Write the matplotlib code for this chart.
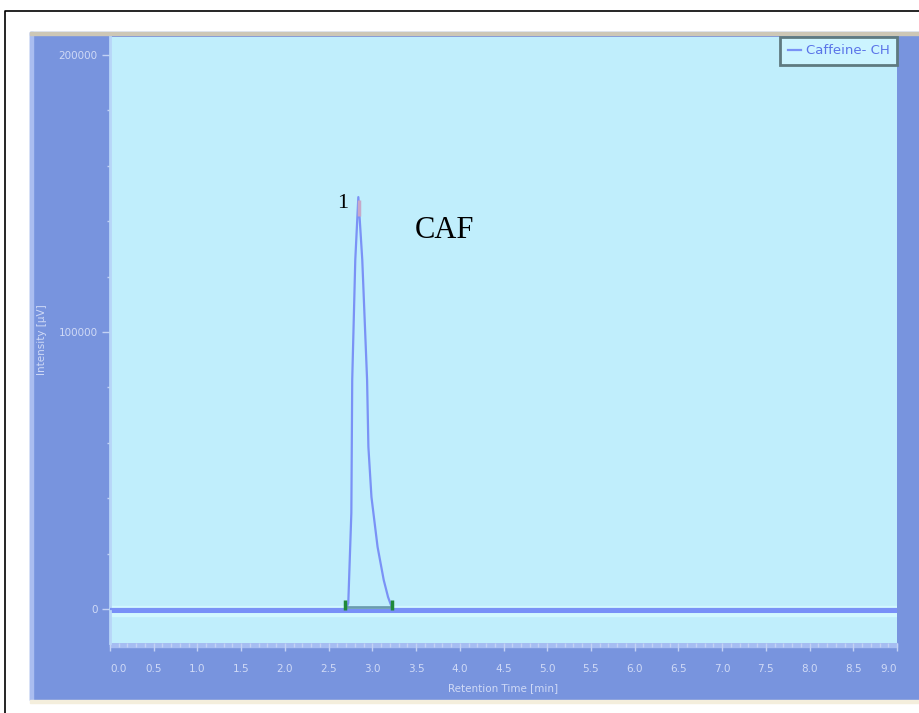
import matplotlib.pyplot as plt
from matplotlib.patches import Rectangle
from matplotlib.lines import Line2D
from matplotlib.ticker import MultipleLocator

# chromatogram
times = [0.0, 2.70, 2.725, 2.76, 2.77, 2.805, 2.84, 2.885, 2.94, 2.955, 2.99, 3.06,
         3.13, 3.18, 3.23, 9.0]
intensity = [0, 0, 2200, 34700, 82700, 126000, 148700, 126000, 82700, 58500, 40400,
             22400, 10500, 4300, 0, 0]

peak_start = 2.69
peak_end = 3.23
peak_apex = 2.845
peak_height = 148700

x_ticks = [0.5 * i for i in range(19)]
x_labels = ["%.1f" % t for t in x_ticks]
y_ticks = [0, 100000, 200000]
y_labels = ["0", "100000", "200000"]

W, H = 919, 713
fig = plt.figure(figsize=(W / 100, H / 100), dpi=100)
fig.patch.set_facecolor("white")


def box(x0, y0, x1, y1, color):
    fig.patches.append(Rectangle((x0 / W, 1 - y1 / H), (x1 - x0) / W, (y1 - y0) / H,
                                 transform=fig.transFigure, color=color, zorder=0))


# outer frame and the blue panel
fig.lines.append(Line2D([5 / W, 5 / W, 1], [0, 1 - 11 / H, 1 - 11 / H],
                        transform=fig.transFigure, color="black", lw=1.2))
box(30, 32, 919, 700, "#7894de")
box(30, 32, 33, 700, "#aabdf0")
box(30, 32, 919, 35, "#cdc7b6")
box(30, 700, 919, 703, "#f4eedc")
box(110, 643, 897, 647, "#a6bdf2")

ax = fig.add_axes([110 / W, 1 - 643 / H, 787 / W, 606 / H])
ax.set_zorder(2)
ax.set_facecolor("#c0eefc")
ax.set_xlim(0, 9)
ax.set_ylim(-12270, 206500)

ax.axhspan(-2600, 1100, color="#d2f8ff", zorder=1)
ax.axhline(-700, color="#7890f8", lw=2.9, zorder=2)
line, = ax.plot(times, intensity, color="#7a92f6", lw=1.6, zorder=3)

# peak integration marks
ax.plot([peak_start, peak_end], [700, 700], color="#6a9cb0", lw=2, zorder=4)
ax.plot([peak_start, peak_end], [1500, 1500], ls="none", marker="|", ms=7, mew=2.5,
        color="#1f8a3a", zorder=5)
ax.plot([peak_apex], [peak_height - 4000], ls="none", marker="|", ms=11, mew=2.5,
        color="#c8a8c8", zorder=5)

ax.text(2.657, 146500, "1", fontsize=16, family="Liberation Serif", ha="center",
        va="center", color="black")
ax.text(3.825, 136500, "CAF", fontsize=22, family="Liberation Serif", ha="center",
        va="center", color="black")

leg = ax.legend([line], ["Caffeine- CH"], loc="upper right", borderaxespad=0,
                fancybox=False, framealpha=1, fontsize=9.5, handlelength=1,
                handletextpad=0.4, borderpad=0.55)
leg.get_frame().set_facecolor("#ccf4ff")
leg.get_frame().set_edgecolor("#5f7a80")
leg.get_frame().set_linewidth(2)
for t in leg.get_texts():
    t.set_color("#5a74e8")

for s in ["top", "right", "bottom"]:
    ax.spines[s].set_visible(False)
ax.spines["left"].set_color("#b8d6f8")
ax.spines["left"].set_linewidth(2)

lab_col = "#d0daf6"
ax.set_xticks(x_ticks, labels=x_labels)
ax.xaxis.set_minor_locator(MultipleLocator(0.1))
ax.set_yticks(y_ticks, labels=y_labels)
ax.yaxis.set_minor_locator(MultipleLocator(20000))
ax.tick_params(axis="x", which="major", length=6, width=1, color="#c4d2f4",
               labelcolor=lab_col, labelsize=7.5, pad=9)
ax.tick_params(axis="x", which="minor", length=3, width=1, color="#c4d2f4")
ax.tick_params(axis="y", which="major", length=6, width=1, color="#c4d2f4",
               labelcolor=lab_col, labelsize=7.5, pad=3)
ax.tick_params(axis="y", which="minor", length=2.5, width=1, color="#c4d2f4")

ticks = ax.xaxis.get_major_ticks()
ticks[0].label1.set_horizontalalignment("left")
ticks[-1].label1.set_horizontalalignment("right")

ax.set_xlabel("Retention Time [min]", color=lab_col, fontsize=7.5)
ax.xaxis.set_label_coords(0.5, -0.074)
ax.xaxis.label.set_va("center")
ax.set_ylabel("Intensity [µV]", color=lab_col, fontsize=7.5)
ax.yaxis.set_label_coords(-0.0864, 0.5)
ax.yaxis.label.set_va("center")

fig.savefig("out.png", dpi=100)
